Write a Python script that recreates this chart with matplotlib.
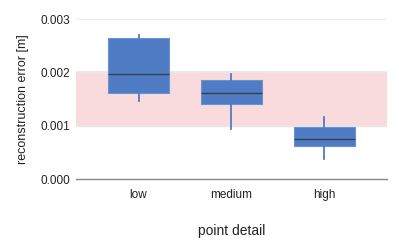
import matplotlib.pyplot as plt

plt.rcParams['font.family'] = ['Liberation Sans', 'DejaVu Sans']

categories = ["low", "medium", "high"]
whisker_low = [0.00146, 0.00094, 0.00038]
q1 = [0.00161, 0.00140, 0.00062]
median = [0.00197, 0.00161, 0.00075]
q3 = [0.00264, 0.00186, 0.00098]
whisker_high = [0.00270, 0.00197, 0.00116]
band = (0.001, 0.002)

BLUE = "#4f7cc4"

fig = plt.figure(figsize=(3.99, 2.47), dpi=100)
ax = fig.add_axes([0.19, 0.275, 0.78, 0.648])

# target band
ax.axhspan(band[0], band[1], color="#fadbdd", zorder=0)
for y in [0.001, 0.002, 0.003]:
    ax.axhline(y, color="#e8e8e8", lw=1.2, zorder=0.5)

stats = []
for i, c in enumerate(categories):
    stats.append(dict(label=c, whislo=whisker_low[i], q1=q1[i], med=median[i],
                      q3=q3[i], whishi=whisker_high[i], fliers=[]))

ax.bxp(stats, positions=range(len(categories)), widths=0.66, patch_artist=True,
       showcaps=False, showfliers=False,
       boxprops=dict(facecolor=BLUE, edgecolor="#6a93d3", lw=0.8),
       medianprops=dict(color="#3a3f4a", lw=1.0),
       whiskerprops=dict(color=BLUE, lw=1.3), zorder=2)

ax.set_xlim(-0.675, 2.675)
ax.set_ylim(0, 0.003)
ax.set_yticks([0.0, 0.001, 0.002, 0.003])
ax.set_yticklabels(["0.000", "0.001", "0.002", "0.003"])
for s in ["left", "right", "top"]:
    ax.spines[s].set_visible(False)
ax.spines["bottom"].set_color("#888888")
ax.spines["bottom"].set_linewidth(1.0)
ax.tick_params(axis="both", length=0, labelsize=8.5, colors="#222222", pad=4)
ax.tick_params(axis="x", pad=7)
ax.set_ylabel("reconstruction error [m]", fontsize=9, color="#222222", labelpad=8)
ax.set_xlabel("point detail", fontsize=10, color="#222222", labelpad=17)

fig.savefig("out.png", dpi=100)
